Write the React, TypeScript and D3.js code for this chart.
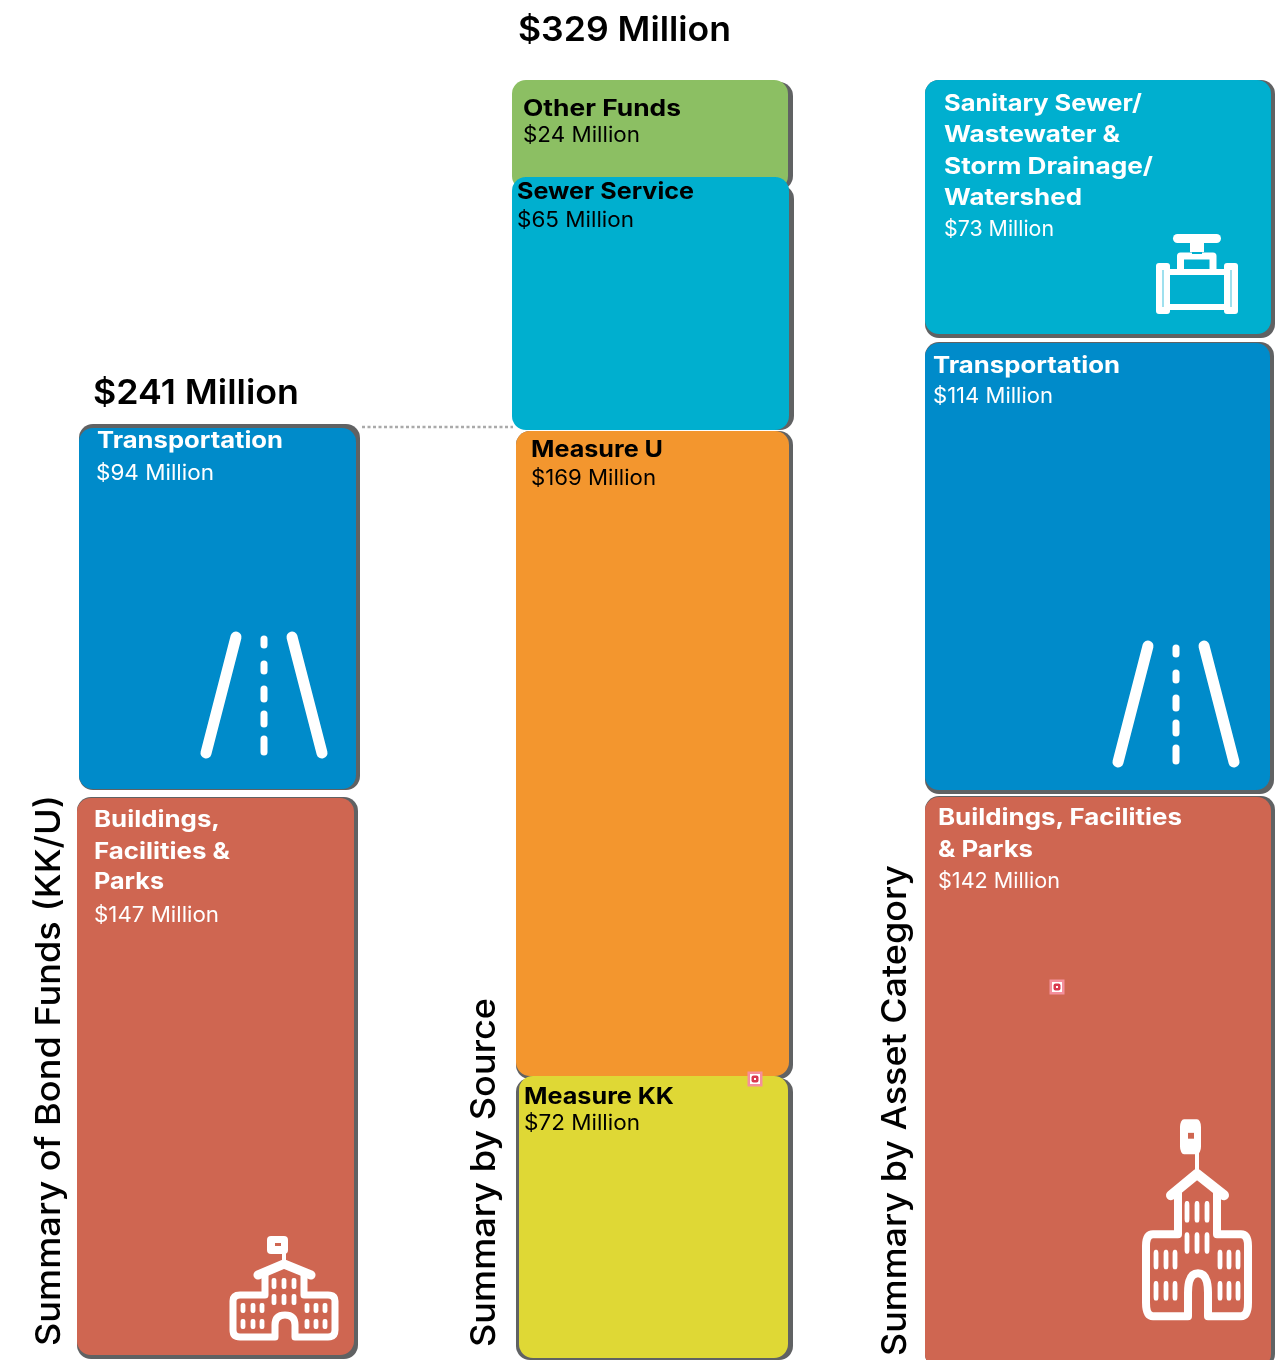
import React from "react";
import * as d3 from "d3";

// ---------- data (bottom-up in each column) ----------
const bondCategories = ["Buildings, Facilities & Parks", "Transportation"];
const bondValues = [147, 94];
const sourceCategories = ["Measure KK", "Measure U", "Sewer Service", "Other Funds"];
const sourceValues = [72, 169, 65, 24];
const assetCategories = ["Buildings, Facilities & Parks", "Transportation", "Sanitary Sewer/Wastewater & Storm Drainage/Watershed"];
const assetValues = [142, 114, 73];
const bondTotalLabel = "$241 Million";
const sourceTotalLabel = "$329 Million";
const axisTitles = ["Summary of Bond Funds (KK/U)", "Summary by Source", "Summary by Asset Category"];

// ---------- palette ----------
const C = { green: "#8cbf63", teal: "#00afcf", blue: "#008bca", orange: "#f3962f", yellow: "#dfd836", red: "#cf6651", shadow: "#616264" };
const FONT = "Inter, 'Open Sans', sans-serif";

// ---------- scales ----------
const edges = (vals: number[]) => [0, ...d3.cumsum(vals)];
const bondY = d3.scaleLinear().domain(edges(bondValues)).range([1358, 794, 425]);
const sourceY = d3.scaleLinear().domain(edges(sourceValues)).range([1358, 1076, 430, 177, 80]);
const assetY = d3.scaleLinear().domain(edges(assetValues)).range([1360, 795, 340, 80]);

type Line = { t: string; x: number; y: number; w: number; b?: boolean };
type Style = {
  fill: string; x0: number; x1: number; dt: number; db: number;
  sx0: number; sx1: number; st: number; sb: number; color: string; lines: Line[];
};

const bondStyle: Style[] = [
  { fill: C.red, x0: 77, x1: 354, dt: 4, db: -3, sx0: 77, sx1: 358, st: 3, sb: 1, color: "#fff", lines: [
    { t: "Buildings,", x: 94, y: 827, w: 126, b: true }, { t: "Facilities &", x: 94, y: 859, w: 136, b: true },
    { t: "Parks", x: 94, y: 889, w: 70, b: true }, { t: `$${bondValues[0]} Million`, x: 94, y: 922, w: 125 } ] },
  { fill: C.blue, x0: 79, x1: 356, dt: 3, db: -5, sx0: 79, sx1: 360, st: -1, sb: -4, color: "#fff", lines: [
    { t: bondCategories[1], x: 97, y: 448, w: 186, b: true }, { t: `$${bondValues[1]} Million`, x: 96, y: 480, w: 118 } ] },
];
const sourceStyle: Style[] = [
  { fill: C.yellow, x0: 519, x1: 788, dt: 0, db: 0, sx0: 516, sx1: 793, st: 2, sb: 2, color: "#000", lines: [
    { t: sourceCategories[0], x: 524, y: 1104, w: 150, b: true }, { t: `$${sourceValues[0]} Million`, x: 524, y: 1130, w: 116 } ] },
  { fill: C.orange, x0: 516, x1: 789, dt: 1, db: 0, sx0: 516, sx1: 793, st: 1, sb: 3, color: "#000", lines: [
    { t: sourceCategories[1], x: 531, y: 457, w: 132, b: true }, { t: `$${sourceValues[1]} Million`, x: 531, y: 485, w: 125 } ] },
  { fill: C.teal, x0: 512, x1: 789, dt: 0, db: 0, sx0: 520, sx1: 794, st: 8, sb: 0, color: "#000", lines: [
    { t: sourceCategories[2], x: 517, y: 199, w: 177, b: true }, { t: `$${sourceValues[2]} Million`, x: 517, y: 227, w: 117 } ] },
  { fill: C.green, x0: 512, x1: 788, dt: 0, db: 13, sx0: 520, sx1: 793, st: 2, sb: 13, color: "#000", lines: [
    { t: sourceCategories[3], x: 523, y: 116, w: 158, b: true }, { t: `$${sourceValues[3]} Million`, x: 523, y: 142, w: 117 } ] },
];
const assetStyle: Style[] = [
  { fill: C.red, x0: 925, x1: 1271, dt: 2, db: 8, sx0: 925, sx1: 1275, st: 1, sb: 8, color: "#fff", lines: [
    { t: "Buildings, Facilities", x: 938, y: 825, w: 244, b: true }, { t: "& Parks", x: 938, y: 857, w: 95, b: true },
    { t: `$${assetValues[0]} Million`, x: 938, y: 888, w: 122 } ] },
  { fill: C.blue, x0: 925, x1: 1270, dt: 3, db: -5, sx0: 925, sx1: 1274, st: 2, sb: -1, color: "#fff", lines: [
    { t: assetCategories[1], x: 933, y: 373, w: 187, b: true }, { t: `$${assetValues[1]} Million`, x: 933, y: 403, w: 120 } ] },
  { fill: C.teal, x0: 925, x1: 1271, dt: 0, db: -6, sx0: 925, sx1: 1275, st: 0, sb: -2, color: "#fff", lines: [
    { t: "Sanitary Sewer/", x: 944, y: 111, w: 198, b: true }, { t: "Wastewater &", x: 944, y: 142, w: 176, b: true },
    { t: "Storm Drainage/", x: 944, y: 174, w: 209, b: true }, { t: "Watershed", x: 944, y: 205, w: 138, b: true },
    { t: `$${assetValues[2]} Million`, x: 944, y: 236, w: 110 } ] },
];

function Column({ values, y, styles, order }: { values: number[]; y: d3.ScaleLinear<number, number>; styles: Style[]; order: number[] }) {
  const e = edges(values);
  return (
    <g>
      {order.map((i) => {
        const s = styles[i];
        const top = y(e[i + 1]);
        const bottom = y(e[i]);
        return (
          <g key={i}>
            <rect x={s.sx0} y={top + s.st} width={s.sx1 - s.sx0} height={bottom + s.sb - top - s.st} rx={14} fill={C.shadow} />
            <rect x={s.x0} y={top + s.dt} width={s.x1 - s.x0} height={bottom + s.db - top - s.dt} rx={14} fill={s.fill} />
          </g>
        );
      })}
    </g>
  );
}

function Labels({ styles }: { styles: Style[] }) {
  return (
    <g fontFamily={FONT}>
      {styles.flatMap((s, i) =>
        s.lines.map((l, j) => (
          <text key={`${i}-${j}`} x={l.x} y={l.y} fill={s.color} fontSize={l.b ? 23 : 21} fontWeight={l.b ? 700 : 400}
            textLength={l.w} lengthAdjust="spacingAndGlyphs">{l.t}</text>
        ))
      )}
    </g>
  );
}

const roadDashes = [[636, 648], [661, 674], [686, 702], [711, 727], [736, 755]];
function Road({ dx, dy }: { dx: number; dy: number }) {
  return (
    <g transform={`translate(${dx},${dy})`} stroke="#fff" strokeLinecap="round" fill="none">
      <line x1={236} y1={637} x2={206} y2={753} strokeWidth={11} />
      <line x1={292} y1={637} x2={322} y2={753} strokeWidth={11} />
      {roadDashes.map(([a, b]) => (
        <line key={a} x1={264} x2={264} y1={a + 3} y2={b - 3} strokeWidth={7} />
      ))}
    </g>
  );
}

const towerX = [64, 74, 84];
const wingLX = [33, 43, 52];
const wingRX = [97, 106, 115];
function School({ tx, ty, sy, sw }: { tx: number; ty: number; sy: number; sw: number }) {
  const win = (x: number, y: number, h: number) => (
    <rect key={`${x}-${y}`} x={x - 2.4} y={y} width={4.8} height={h} rx={2} fill="#fff" />
  );
  const st = { vectorEffect: "non-scaling-stroke" } as React.CSSProperties;
  return (
    <g transform={`translate(${tx},${ty}) scale(1,${sy})`} fill="none" stroke="#fff" strokeLinejoin="round" strokeLinecap="round">
      <path style={st} strokeWidth={sw} d="M65 117 L30 117 Q23 117 23 110 L23 81 Q23 75 30 75 L55 75 L55 54 M94 54 L94 75 L118 75 Q125 75 125 81 L125 110 Q125 117 118 117 L85 117 L85 105 Q85 95 75 95 Q65 95 65 105 L65 117" />
      <path style={st} strokeWidth={sw + 2} d="M48 55 L74 44 L101 55" />
      <path style={st} strokeWidth={4} d="M74 44 L74 33" />
      <rect x={57} y={16} width={21} height={18} rx={4} fill="#fff" stroke="none" />
      <rect x={65} y={23} width={6} height={3} fill={C.red} stroke="none" />
      <g stroke="none">
        {towerX.map((x) => win(x, 58, 11))}
        {towerX.map((x) => win(x, 74, 11))}
        {[...wingLX, ...wingRX].map((x) => win(x, 83, 10))}
        {[...wingLX, ...wingRX].map((x) => win(x, 99, 10))}
      </g>
    </g>
  );
}

function Valve() {
  return (
    <g fill="none" stroke="#fff" strokeLinejoin="round">
      <rect x={1173} y={234} width={48} height={9} rx={4.5} fill="#fff" stroke="none" />
      <rect x={1190} y={243} width={14} height={9} fill="#fff" stroke="none" />
      <path d="M1180.5 272 L1180.5 256 L1213 256 L1213 272" strokeWidth={7} />
      <rect x={1192} y={252} width={10} height={2} fill={C.teal} stroke="none" />
      <rect x={1156} y={263} width={14} height={51} rx={3} fill="#fff" stroke="none" />
      <rect x={1224} y={263} width={14} height={51} rx={3} fill="#fff" stroke="none" />
      <rect x={1162} y={270} width={2} height={37} fill="#9fe0ee" stroke="none" />
      <rect x={1230} y={270} width={2} height={37} fill="#9fe0ee" stroke="none" />
      <path d="M1169 272 L1225 272 M1169 307 L1225 307" strokeWidth={6} />
    </g>
  );
}

function Marker({ x, y }: { x: number; y: number }) {
  return (
    <g>
      <rect x={x - 7.5} y={y - 7.5} width={15} height={15} fill="#f58f9c" />
      <rect x={x - 5} y={y - 5} width={10} height={10} fill="#fff" />
      <rect x={x - 3.5} y={y - 3.5} width={7} height={7} rx={2} fill="#d9384f" />
      <rect x={x - 1} y={y - 1} width={2} height={2} fill="#fff" />
    </g>
  );
}

function AxisTitle({ x, yStart, len, text }: { x: number; yStart: number; len: number; text: string }) {
  return (
    <text transform={`translate(${x},${yStart}) rotate(-90)`} fontFamily={FONT} fontSize={34} fontWeight={500} fill="#000"
      textLength={len} lengthAdjust="spacingAndGlyphs">{text}</text>
  );
}

export default function App() {
  return (
    <svg width={1276} height={1360} viewBox="0 0 1276 1360" style={{ position: "absolute", left: 0, top: 0, background: "#fff" }}>
      <defs>
        <filter id="soft" x="0" y="0" width="100%" height="100%">
          <feGaussianBlur stdDeviation={0.45} />
        </filter>
      </defs>
      <g filter="url(#soft)">
        <line x1={362} x2={513} y1={427} y2={427} stroke="#aaa" strokeWidth={2.5} strokeDasharray="3 2.5" />
        <Column values={bondValues} y={bondY} styles={bondStyle} order={[0, 1]} />
        <Column values={sourceValues} y={sourceY} styles={sourceStyle} order={[3, 2, 1, 0]} />
        <Column values={assetValues} y={assetY} styles={assetStyle} order={[2, 1, 0]} />
        <Labels styles={bondStyle} />
        <Labels styles={sourceStyle} />
        <Labels styles={assetStyle} />
        <text x={518} y={41} fontFamily={FONT} fontSize={34} fontWeight={600} fill="#000" textLength={213} lengthAdjust="spacingAndGlyphs">{sourceTotalLabel}</text>
        <text x={93} y={404} fontFamily={FONT} fontSize={34} fontWeight={600} fill="#000" textLength={206} lengthAdjust="spacingAndGlyphs">{bondTotalLabel}</text>
        <AxisTitle x={60} yStart={1346} len={551} text={axisTitles[0]} />
        <AxisTitle x={495} yStart={1347} len={349} text={axisTitles[1]} />
        <AxisTitle x={906} yStart={1356} len={491} text={axisTitles[2]} />
        <Road dx={0} dy={0} />
        <Road dx={912} dy={9} />
        <School tx={210} ty={1220} sy={1} sw={7} />
        <School tx={1123} ty={1088} sy={1.95} sw={8} />
        <Valve />
        <Marker x={755} y={1079} />
        <Marker x={1057} y={987} />
      </g>
    </svg>
  );
}
